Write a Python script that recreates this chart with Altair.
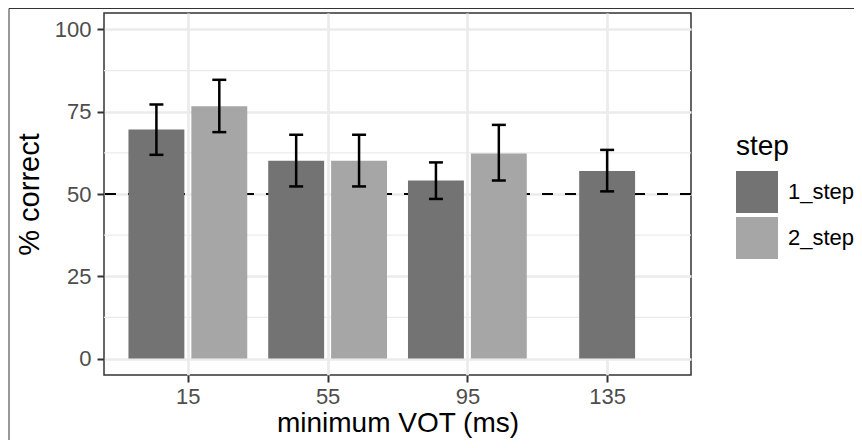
import altair as alt
import pandas as pd

vot = [15, 15, 55, 55, 95, 95, 135]
step = ["1_step", "2_step", "1_step", "2_step", "1_step", "2_step", "1_step"]
pct = [69.6, 76.7, 60.1, 60.1, 54.1, 62.3, 57.0]
lo = [61.9, 68.8, 52.3, 52.3, 48.5, 54.1, 50.8]
hi = [77.2, 84.7, 68.0, 68.0, 59.6, 71.0, 63.4]

x_ticks = [15, 55, 95, 135]
y_ticks = [0, 25, 50, 75, 100]
y_minor = [12.5, 37.5, 62.5, 87.5]
chance = 50

df = pd.DataFrame({"vot": vot, "step": step, "pct": pct, "lo": lo, "hi": hi})
# dodge: group spacing 40 units, dodge width 0.9, bar width 0.8 (ggplot-like)
n = df.groupby("vot")["vot"].transform("size")
idx = df.groupby("vot").cumcount()
df["pos"] = df["vot"] + (idx - (n - 1) / 2) * 0.45 * 40
df["x1"] = df["pos"] - 0.2 * 40
df["x2"] = df["pos"] + 0.2 * 40
df["c1"] = df["pos"] - 2
df["c2"] = df["pos"] + 2

FONT = "Liberation Sans"
W, H = 587, 362

xscale = alt.Scale(domain=[-9, 159], nice=False, zero=False)
yscale = alt.Scale(domain=[-5, 105], nice=False, zero=False)

base = alt.Chart(df)

minor = alt.Chart(pd.DataFrame({"y": y_minor})).mark_rule(
    color="#EBEBEB", strokeWidth=1.4
).encode(y=alt.Y("y:Q", scale=yscale))

hline = alt.Chart(pd.DataFrame({"y": [chance]})).mark_rule(
    color="black", strokeWidth=2, strokeDash=[11, 12]
).encode(y=alt.Y("y:Q", scale=yscale))

bars = base.mark_rect().encode(
    x=alt.X("x1:Q", scale=xscale,
            axis=alt.Axis(values=x_ticks, format="d", title="minimum VOT (ms)")),
    x2="x2:Q",
    y=alt.Y("pct:Q", scale=yscale,
            axis=alt.Axis(values=y_ticks, format="d", title="% correct")),
    y2=alt.datum(0),
    color=alt.Color(
        "step:N",
        scale=alt.Scale(domain=["1_step", "2_step"], range=["#737373", "#A6A6A6"]),
        legend=alt.Legend(title="step", orient="none", legendX=632, legendY=120,
                          symbolType="square", symbolSize=1764, symbolStrokeWidth=0,
                          rowPadding=4, labelOffset=10, titlePadding=10),
    ),
)

err = base.mark_rule(color="black", strokeWidth=2.5).encode(
    x="pos:Q", y="lo:Q", y2="hi:Q"
)
cap_top = base.mark_rule(color="black", strokeWidth=2.5).encode(
    x="c1:Q", x2="c2:Q", y="hi:Q"
)
cap_bot = base.mark_rule(color="black", strokeWidth=2.5).encode(
    x="c1:Q", x2="c2:Q", y="lo:Q"
)

frame_left = alt.Chart(pd.DataFrame({"a": [0]})).mark_rule(
    color="#333333", strokeWidth=1
).encode(x=alt.value(-95), y=alt.value(-4.5), y2=alt.value(500))
frame_top = alt.Chart(pd.DataFrame({"a": [0]})).mark_rule(
    color="#333333", strokeWidth=1
).encode(x=alt.value(-95), x2=alt.value(900), y=alt.value(-4.5))

chart = alt.layer(minor, hline, bars, err, cap_top, cap_bot, frame_left, frame_top).properties(
    width=W, height=H,
    autosize=alt.AutoSizeParams(type="none"),
    padding={"left": 96, "top": 5, "right": 163, "bottom": 65},
).configure_view(
    stroke="#333333", strokeWidth=1.5
).configure_axis(
    labelFont=FONT, titleFont=FONT,
    labelFontSize=22, titleFontSize=29,
    labelColor="#4D4D4D", titleColor="black",
    titleFontWeight="normal",
    domain=False,
    tickColor="#333333", tickWidth=2, tickSize=7,
    gridColor="#EBEBEB", gridWidth=2.7,
    labelPadding=6,
).configure_axisX(
    labelPadding=4, titlePadding=2, titleFontSize=28,
).configure_axisY(
    titlePadding=10,
).configure_legend(
    labelFont=FONT, titleFont=FONT, labelFontSize=22, titleFontSize=28,
    labelColor="black", titleColor="black", titleFontWeight="normal",
)

chart.save("out.html", embed_options={"renderer": "svg", "actions": False})
